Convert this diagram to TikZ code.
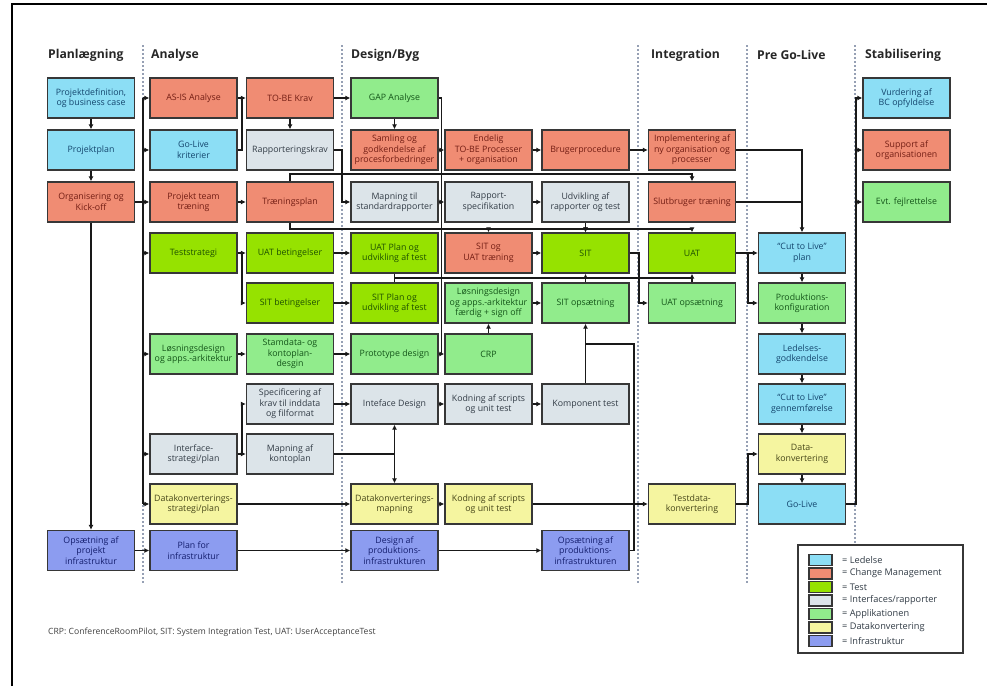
\documentclass[tikz,border=0pt]{standalone}
\usepackage{fontspec}
\setmainfont{Open Sans}
\usetikzlibrary{arrows.meta,calc}

\definecolor{ledfill}{RGB}{140,222,245}
\definecolor{ledtext}{RGB}{20,70,110}
\definecolor{cmfill}{RGB}{240,140,115}
\definecolor{cmtext}{RGB}{115,30,20}
\definecolor{tstfill}{RGB}{150,226,0}
\definecolor{tsttext}{RGB}{30,80,0}
\definecolor{iffill}{RGB}{220,228,233}
\definecolor{iftext}{RGB}{50,60,70}
\definecolor{appfill}{RGB}{145,236,140}
\definecolor{apptext}{RGB}{20,85,25}
\definecolor{datfill}{RGB}{245,245,160}
\definecolor{dattext}{RGB}{70,70,25}
\definecolor{infrafill}{RGB}{140,156,240}
\definecolor{infratext}{RGB}{20,30,110}
\definecolor{boxline}{RGB}{55,55,55}
\definecolor{connline}{RGB}{25,25,25}
\definecolor{sepline}{RGB}{150,160,180}

\tikzset{
  box/.style={draw=boxline, line width=1.3pt, minimum width=87pt, minimum height=40pt,
    inner sep=0pt, align=center, font=\fontsize{8.8}{10.4}\selectfont},
  boxled/.style={box, fill=ledfill, text=ledtext},
  boxcm/.style={box, fill=cmfill, text=cmtext},
  boxtest/.style={box, fill=tstfill, text=tsttext},
  boxif/.style={box, fill=iffill, text=iftext},
  boxapp/.style={box, fill=appfill, text=apptext},
  boxdata/.style={box, fill=datfill, text=dattext},
  boxinfra/.style={box, fill=infrafill, text=infratext},
  conn/.style={draw=connline, line width=1.8pt},
  phase/.style={anchor=west, inner sep=0pt, font=\fontsize{12.2}{14}\selectfont\bfseries, text=black!85},
  sep/.style={draw=sepline, line width=1.4pt, dash pattern=on 2pt off 2pt},
  legsw/.style={draw=boxline, line width=1.3pt, minimum width=23pt, minimum height=11pt, inner sep=0pt},
  legtxt/.style={anchor=west, inner sep=0pt, font=\fontsize{9.2}{10}\selectfont, text=iftext}
}

\begin{document}
\begin{tikzpicture}[x=1pt, y=-1pt, >={Latex[length=5pt,width=5pt]}]
\useasboundingbox (0,0) rectangle (987,686);
\draw[line width=2pt] (12,686) -- (12,4) -- (987,4);

% phases
\foreach \x in {143,342,638,747,855}
  \draw[sep] (\x,45) -- (\x,583);
\foreach \x/\t [count=\i] in {48/Planlægning,151/Analyse,351/{Design/Byg},651/Integration,757/Pre Go-Live,865/Stabilisering}
  \node[phase] (hd-\i) at (\x,55) {\t};

% Planlaegning
\node[boxled] (a1) at (91,98) {Projektdefinition,\\og business case};
\node[boxled] (a2) at (91,150) {Projektplan};
\node[boxcm] (a3) at (91,202) {Organisering og\\Kick-off};
\node[boxinfra] (a10) at (91,550.5) {Opsætning af\\projekt\\infrastruktur};

% Analyse
\node[boxcm] (b1) at (193.5,98) {AS-IS Analyse};
\node[boxled] (b2) at (193.5,150) {Go-Live\\kriterier};
\node[boxcm] (b3) at (193.5,202) {Projekt team\\træning};
\node[boxtest] (b4) at (193.5,253) {Teststrategi};
\node[boxapp] (b6) at (193.5,354) {Løsningsdesign\\og apps.-arkitektur};
\node[boxif] (b8) at (193.5,454) {Interface-\\strategi/plan};
\node[boxdata] (b9) at (193.5,504) {Datakonverterings-\\strategi/plan};
\node[boxinfra] (b10) at (193.5,550.5) {Plan for\\infrastruktur};

\node[boxcm] (c1) at (290,98) {TO-BE Krav};
\node[boxif] (c2) at (290,150) {Rapporteringskrav};
\node[boxcm] (c3) at (290,202) {Træningsplan};
\node[boxtest] (c4) at (290,253) {UAT betingelser};
\node[boxtest] (c5) at (290,303) {SIT betingelser};
\node[boxapp] (c6) at (290,354) {Stamdata- og\\kontoplan-\\desgin};
\node[boxif] (c7) at (290,404) {Specificering af\\krav til inddata\\og filformat};
\node[boxif] (c8) at (290,454) {Mapning af\\kontoplan};

% Design/Byg
\node[boxapp] (d1) at (394.5,98) {GAP Analyse};
\node[boxcm] (d2) at (394.5,150) {Samling og\\godkendelse af\\procesforbedringer};
\node[boxif] (d3) at (394.5,202) {Mapning til\\standardrapporter};
\node[boxtest] (d4) at (394.5,253) {UAT Plan og\\udvikling af test};
\node[boxtest] (d5) at (394.5,303) {SIT Plan og\\udvikling af test};
\node[boxapp] (d6) at (394.5,354) {Prototype design};
\node[boxif] (d7) at (394.5,404) {Inteface Design};
\node[boxdata] (d9) at (394.5,504) {Datakonverterings-\\mapning};
\node[boxinfra] (d10) at (394.5,550.5) {Design af\\produktions-\\infrastrukturen};

\node[boxcm] (e2) at (488.5,150) {Endelig\\TO-BE Processer\\+ organisation};
\node[boxif] (e3) at (488.5,202) {Rapport-\\specifikation};
\node[boxcm] (e4) at (488.5,253) {SIT og\\UAT træning};
\node[boxapp] (e5) at (488.5,303) {Løsningsdesign\\og apps.-arkitektur\\færdig + sign off};
\node[boxapp] (e6) at (488.5,354) {CRP};
\node[boxif] (e7) at (488.5,404) {Kodning af scripts\\og unit test};
\node[boxdata] (e9) at (488.5,504) {Kodning af scripts\\og unit test};

\node[boxcm] (f2) at (585.5,150) {Brugerprocedure};
\node[boxif] (f3) at (585.5,202) {Udvikling af\\rapporter og test};
\node[boxtest] (f4) at (585.5,253) {SIT};
\node[boxapp] (f5) at (585.5,303) {SIT opsætning};
\node[boxif] (f7) at (585.5,404) {Komponent test};
\node[boxinfra] (f10) at (585.5,550.5) {Opsætning af\\produktions-\\infrastrukturen};

% Integration
\node[boxcm] (g2) at (692,150) {Implementering af\\ny organisation og\\processer};
\node[boxcm] (g3) at (692,202) {Slutbruger træning};
\node[boxtest] (g4) at (692,253) {UAT};
\node[boxapp] (g5) at (692,303) {UAT opsætning};
\node[boxdata] (g9) at (692,504) {Testdata-\\konvertering};

% Pre Go-Live
\node[boxled] (h4) at (802,253) {“Cut to Live”\\plan};
\node[boxapp] (h5) at (802,303) {Produktions-\\konfiguration};
\node[boxled] (h6) at (802,354) {Ledelses-\\godkendelse};
\node[boxled] (h7) at (802,404) {“Cut to Live”\\gennemførelse};
\node[boxdata] (h8) at (802,454) {Data-\\konvertering};
\node[boxled] (h9) at (802,504) {Go-Live};

% Stabilisering
\node[boxled] (i1) at (906.5,98) {Vurdering af\\BC opfyldelse};
\node[boxcm] (i2) at (906.5,150) {Support af\\organisationen};
\node[boxapp] (i3) at (906.5,202) {Evt. fejlrettelse};

% straight arrows
\foreach \p/\q in {a1/a2,a2/a3,a3/a10,a10/b10,b10/d10,d10/f10,b1/c1,c1/d1,c1/c2,d1/d2,
    b3/c3,b4/c4,c4/d4,c5/d5,b6/c6,c6/d6,d2/e2,e2/f2,f2/g2,d3/e3,e3/f3,f3/f4,e4/f4,
    d6/e6,e6/e5,e5/f5,f5/f4,g5/g4,g4/h4,c7/d7,d7/e7,e7/f7,f7/f5,b8/c8,b9/d9,d9/e9,e9/g9,
    h4/h5,h5/h6,h6/h7,h7/h8,h8/h9}
  \draw[conn,->] (\p) -- (\q);

% bus from Organisering
\coordinate (bus) at (143,0);
\draw[conn] (a3.east) -- (bus |- a3.east);
\draw[conn] (bus |- b1.west) -- (bus |- b9.west);
\foreach \n in {b1,b2,b3,b4,b6,b8,b9}
  \draw[conn,->] (bus |- \n.west) -- (\n.west);

\draw[conn] (b2.east) -| ($(b1.east)!0.5!(c1.west)$);
\draw[conn,->] (c2.east) -| ($(c2.east)!0.5!(d2.west)$) |- (d3.west);
\draw[conn] (d1.east) -| ($(d6.east)!0.5!(e6.west)$);
\draw[conn,->] (b4.east) -- ++(4,0) |- (c5.west);

% training lines
\draw[conn,->] (c3.north) -- ++(0,-7) -| (g3.north);
\draw[conn,->] (c3.south) -- ++(0,6) coordinate (trn) -| (g4.north);
\foreach \n in {e4,f4}
  \draw[conn,->] (trn -| \n.north) -- (\n.north);

% test plans to SIT / UAT
\draw[conn] (d4) -- (d5);
\draw[conn] ($(d4.south)!0.5!(d5.north)$) coordinate (tpl) -- (tpl -| g4.south);
\draw[conn,->] (f4.east) -- ++(9,0) |- (g5.west);
\draw[conn,->] (g4.east) -- ++(12,0) |- (h5.west);
\draw[conn,->] (g2.east) -| (h4.north);
\draw[conn] (g3.east) -- (g3.east -| h4.north);

% interfaces
\draw[conn,->] ($(b8.east)!0.5!(c8.west)$) |- (c7.west);
\draw[conn] (c8.east) -- (c8.east -| d7.south);
\draw[conn,<->] (d7) -- (d9);
\draw[conn] (f10.east) -- ++(4,0) |- ($(f5.south)+(0,20)$);
\draw[conn,->] (g9.east) -- ++(12,0) |- (h8.west);
\draw[conn,->] (h9.east) -- ++(10,0) coordinate (stb) |- (i1.west);
\foreach \n in {i2,i3}
  \draw[conn,->] (stb |- \n.west) -- (\n.west);

% legend
\draw[draw=boxline, fill=white, line width=1.3pt] (798,545) rectangle (963,653);
\foreach \c/\t [count=\i, evaluate={\yy=546.5+13.5*\i;}] in {ledfill/Ledelse,cmfill/Change Management,tstfill/Test,iffill/{Interfaces/rapporter},appfill/Applikationen,datfill/Datakonvertering,infrafill/Infrastruktur}{
  \node[legsw, fill=\c] (sw-\i) at (820.5,\yy) {};
  \node[legtxt] (lt-\i) at (842,\yy) {= \t};
}

\node[anchor=west, inner sep=0pt, font=\fontsize{8.6}{10}\selectfont, text=black!75] (note) at (48,632)
  {CRP: ConferenceRoomPilot, SIT: System Integration Test, UAT: UserAcceptanceTest};
\end{tikzpicture}
\end{document}
